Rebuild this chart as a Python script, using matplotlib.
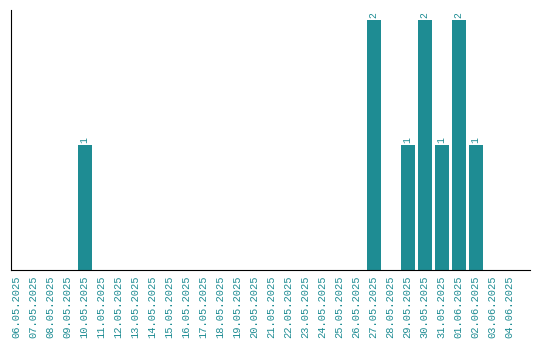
import matplotlib
matplotlib.use('Agg')
from matplotlib import pyplot as plt
import numpy as np

dates = ['06.05.2025', '07.05.2025', '08.05.2025', '09.05.2025', '10.05.2025',
         '11.05.2025', '12.05.2025', '13.05.2025', '14.05.2025', '15.05.2025',
         '16.05.2025', '17.05.2025', '18.05.2025', '19.05.2025', '20.05.2025',
         '21.05.2025', '22.05.2025', '23.05.2025', '24.05.2025', '25.05.2025',
         '26.05.2025', '27.05.2025', '28.05.2025', '29.05.2025', '30.05.2025',
         '31.05.2025', '01.06.2025', '02.06.2025', '03.06.2025', '04.06.2025']
counts = [0, 0, 0, 0, 1, 0, 0, 0, 0, 0,
          0, 0, 0, 0, 0, 0, 0, 0, 0, 0,
          0, 2, 0, 1, 2, 1, 2, 1, 0, 0]

color = '#1e8c93'
plt.rcParams['font.family'] = ['Liberation Mono', 'DejaVu Sans Mono']

fig = plt.figure(figsize=(5.4, 3.4), dpi=100)
ax = fig.add_axes([11 / 540, 70 / 340, 519 / 540, 260 / 340])
index = np.arange(len(dates))
ax.bar(index, counts, width=0.82, color=color)
for i, c in zip(index, counts):
    if c > 0:
        ax.text(i, c + 0.015, str(c), rotation=90, ha='center', va='bottom',
                fontsize=7, color=color)

ax.set_xlim(-0.33, 30.2)
ax.set_ylim(0, 2.08)
ax.set_xticks(index)
ax.set_xticklabels(dates, rotation=90, fontsize=7.5, color=color)
ax.tick_params(axis='x', length=0, pad=4)
ax.set_yticks([])
ax.spines['top'].set_visible(False)
ax.spines['right'].set_visible(False)

plt.savefig('out.png', dpi=100)
